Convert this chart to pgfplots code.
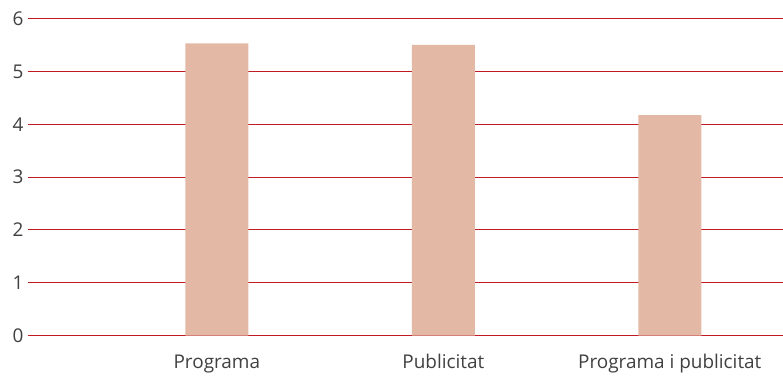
\documentclass[border=0pt]{standalone}
\usepackage{pgfplots}
\pgfplotsset{compat=1.18}
\usepackage{fontspec}
\setmainfont{Open Sans}
\definecolor{barc}{HTML}{E3B8A4}
\definecolor{gridc}{HTML}{C01A24}
\definecolor{txt}{HTML}{404040}
\begin{document}
\begin{tikzpicture}
\begin{axis}[
  name=ax,
  scale only axis,
  width=755bp, height=317.2bp,
  xmin=0.166, xmax=3.5,
  ymin=0, ymax=6,
  ybar, bar width=63bp,
  xtick={1,2,3},
  xticklabels={Programa,Publicitat,Programa i publicitat},
  ytick={0,1,2,3,4,5,6},
  ymajorgrids=true,
  grid style={gridc, line width=1bp},
  tick style={draw=none},
  axis line style={draw=none},
  /pgf/number format/assume math mode=true,
  ticklabel style={font=\fontsize{19}{21}\selectfont, text=txt},
  xticklabel style={anchor=base, yshift=-28.5bp},
  yticklabel style={xshift=-1bp},
]
\addplot[fill=barc, draw=none] coordinates {(1,5.53) (2,5.50) (3,4.17)};
\end{axis}
\pgfresetboundingbox
\path (ax.south west) ++(-28bp,-40.3bp) coordinate (a);
\path (ax.north east) ++(0,18.5bp) coordinate (b);
\path[use as bounding box] (a) rectangle (b);
\end{tikzpicture}
\end{document}
